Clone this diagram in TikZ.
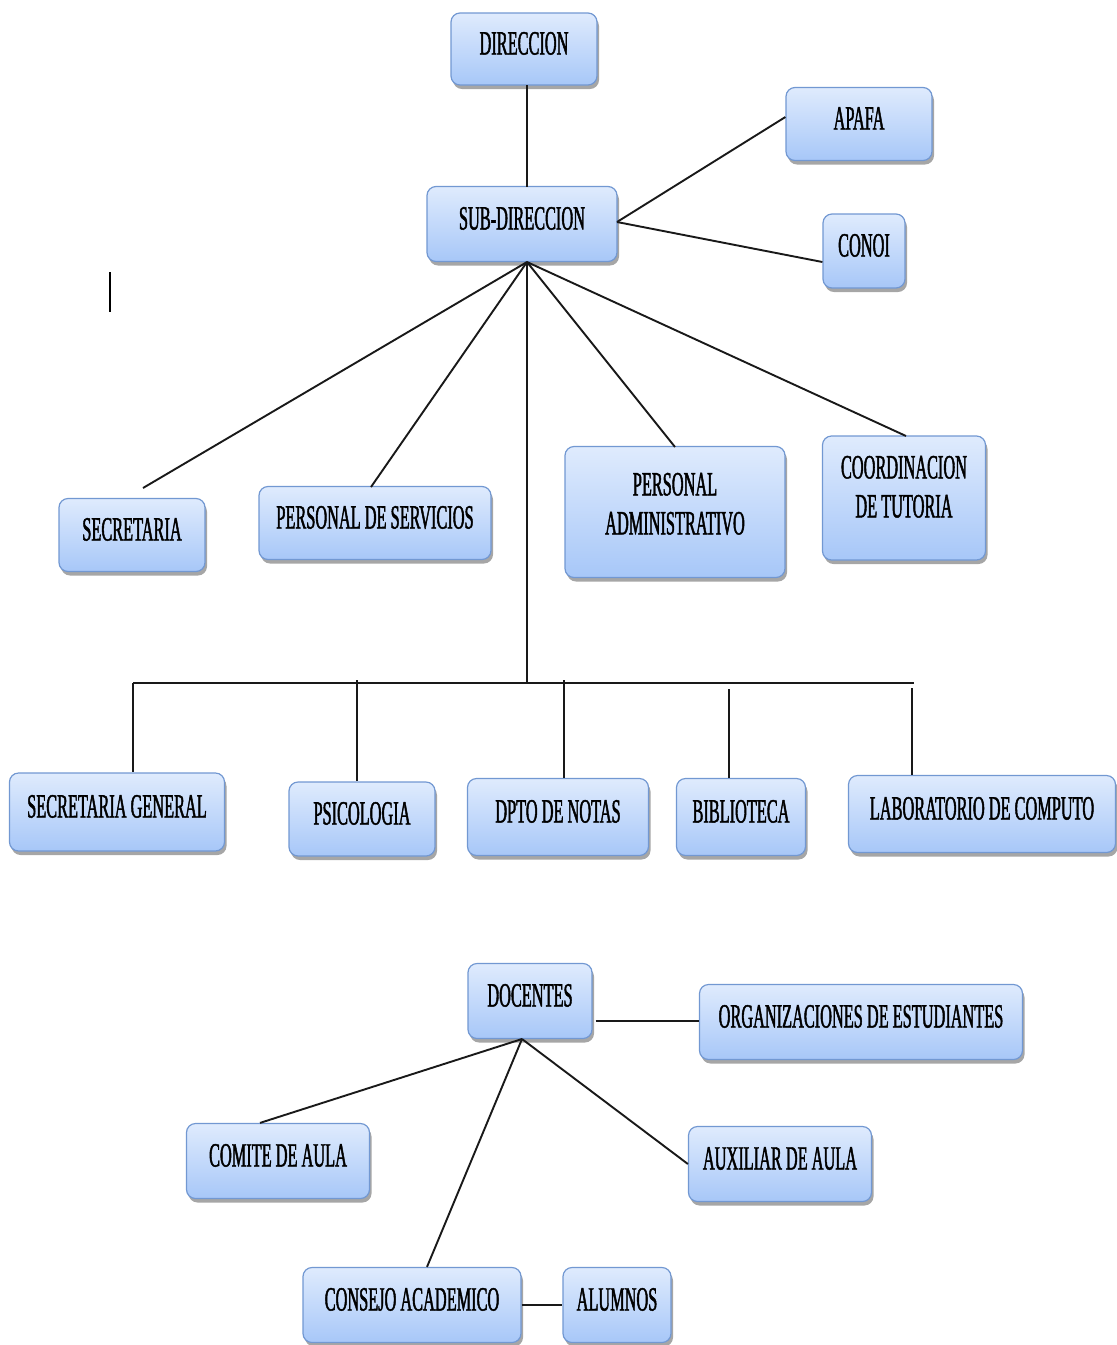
\documentclass[tikz,border=0pt]{standalone}
\usepackage{fontspec}
\newfontfamily\cond[FakeStretch=0.48,FakeBold=1.3]{Liberation Serif}
\usetikzlibrary{shadows,calc}
\definecolor{boxtop}{HTML}{DFEBFD}
\definecolor{boxbot}{HTML}{A7C7F8}
\definecolor{boxborder}{HTML}{7298D2}
\tikzset{
  orgbox/.style={draw=boxborder, line width=1.2pt, rounded corners=9pt,
    top color=boxtop, bottom color=boxbot,
    drop shadow={shadow xshift=2pt, shadow yshift=-4pt, fill=black, opacity=0.35},
    font=\cond\fontsize{34}{39}\selectfont, inner sep=0pt,
    text height=23pt, text depth=12pt},
  twoline/.style={align=center, text height=, text depth=},
  conn/.style={line width=1.9pt, draw=black!90}
}
\begin{document}
\begin{tikzpicture}[x=1pt,y=-1pt]
\useasboundingbox (0,0) rectangle (1117,1345);
% nodes
\node[orgbox, minimum width=146pt, minimum height=72pt] (dir) at (524,49) {DIRECCION};
\node[orgbox, minimum width=146pt, minimum height=73pt] (apafa) at (859,124) {APAFA};
\node[orgbox, minimum width=190pt, minimum height=75pt] (sub) at (522,224) {SUB-DIRECCION};
\node[orgbox, minimum width=82pt, minimum height=74pt] (conoi) at (864,251) {CONOI};
\node[orgbox, minimum width=146pt, minimum height=73pt] (sec) at (132,535) {SECRETARIA};
\node[orgbox, minimum width=232pt, minimum height=73pt] (pserv) at (375,523) {PERSONAL DE SERVICIOS};
\node[orgbox, twoline, minimum width=220pt, minimum height=131pt] (padm) at (675,512) {PERSONAL\\[0pt]ADMINISTRATIVO\\[-34pt]\strut};
\node[orgbox, twoline, minimum width=163pt, minimum height=124pt] (coord) at (904,498) {COORDINACION\\[0pt]DE TUTORIA\\[-28pt]\strut};
\node[orgbox, minimum width=215pt, minimum height=78pt] (secg) at (117,812) {SECRETARIA GENERAL};
\node[orgbox, minimum width=146pt, minimum height=74pt] (psic) at (362,819) {PSICOLOGIA};
\node[orgbox, minimum width=181pt, minimum height=77pt] (dpto) at (558,817) {DPTO DE NOTAS};
\node[orgbox, minimum width=129pt, minimum height=77pt] (bib) at (741,817) {BIBLIOTECA};
\node[orgbox, minimum width=267pt, minimum height=77pt] (lab) at (982,814) {LABORATORIO DE COMPUTO};
\node[orgbox, minimum width=124pt, minimum height=75pt] (doc) at (530,1001) {DOCENTES};
\node[orgbox, minimum width=323pt, minimum height=75pt] (org) at (861,1022) {ORGANIZACIONES DE ESTUDIANTES};
\node[orgbox, minimum width=183pt, minimum height=75pt] (comite) at (278,1161) {COMITE DE AULA};
\node[orgbox, minimum width=183pt, minimum height=75pt] (aux) at (780,1164) {AUXILIAR DE AULA};
\node[orgbox, minimum width=218pt, minimum height=75pt] (cons) at (412,1305) {CONSEJO ACADEMICO};
\node[orgbox, minimum width=108pt, minimum height=75pt] (alum) at (617,1305) {ALUMNOS};
% coordinates
\coordinate (dirb) at (527,85);
\coordinate (subt) at (527,187);
\coordinate (fan) at (527,262);
\coordinate (subr) at (617,222);
\coordinate (secend) at (143,488);
\coordinate (pservt) at (371,487);
\coordinate (padmt) at (675,447);
\coordinate (coordt) at (906,436);
\coordinate (busm) at (527,683);
\coordinate (busl) at (133,683);
\coordinate (busr) at (914,683);
\coordinate (b1) at (133,683);
\coordinate (b2) at (357,680);
\coordinate (b3) at (564,680);
\coordinate (b4) at (729,689);
\coordinate (b5) at (912,688);
\coordinate (docb) at (522,1039);
% connectors
\draw[conn] (dirb) -- (subt);
\draw[conn] (subr) -- ([yshift=7pt]apafa.west);
\draw[conn] (subr) -- ([yshift=-11pt]conoi.west);
\draw[conn] (fan) -- (secend);
\draw[conn] (fan) -- (pservt);
\draw[conn] (fan) -- (padmt);
\draw[conn] (fan) -- (coordt);
\draw[conn] (fan) -- (busm);
\draw[conn] (busl) -- (busr);
\draw[conn] (b1) -- (b1 |- secg.north);
\draw[conn] (b2) -- (b2 |- psic.north);
\draw[conn] (b3) -- (b3 |- dpto.north);
\draw[conn] (b4) -- (b4 |- bib.north);
\draw[conn] (b5) -- (b5 |- lab.north);
\draw[conn] ([xshift=3pt,yshift=-20pt]doc.east) -- ([yshift=1pt]org.west);
\draw[conn] (docb) -- ([xshift=-18pt]comite.north);
\draw[conn] (docb) -- (aux.west);
\draw[conn] (docb) -- ([xshift=15pt]cons.north);
\draw[conn] (cons.east) -- (alum.west);
% stray mark
\draw[line width=1.9pt] (110,272) -- (110,312);
\end{tikzpicture}
\end{document}
